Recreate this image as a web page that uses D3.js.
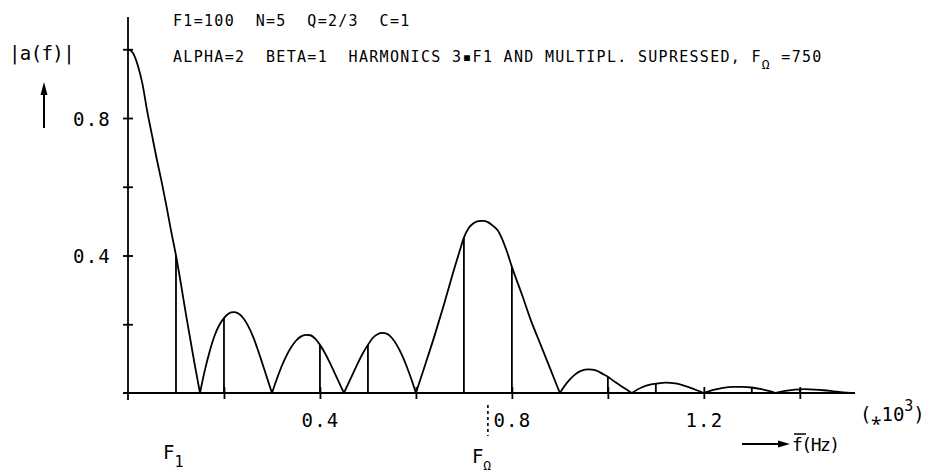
<!DOCTYPE html>
<html>
<head>
<meta charset="utf-8">
<script src="https://cdn.jsdelivr.net/npm/d3@7"></script>
<style>
  html, body { margin: 0; padding: 0; background: #fff; }
  svg { display: block; }
  text { font-family: "DejaVu Sans Mono", monospace; fill: #000; }
</style>
</head>
<body>
<svg id="chart" width="929" height="472"></svg>
<script>
// Amplitude spectrum |a(f)|, one array per lobe: [frequency in Hz, amplitude]
const lobe1 = [[0,1.0],[10,0.99],[20,0.955],[30,0.90],[40,0.82],[50,0.75],[60,0.68],[70,0.615],[80,0.545],[90,0.47],[100,0.40],[110,0.32],[120,0.235],[130,0.155],[140,0.075],[150,0]];
const lobe2 = [[150,0],[160,0.065],[170,0.12],[180,0.165],[190,0.197],[200,0.218],[210,0.231],[220,0.235],[230,0.231],[240,0.218],[250,0.196],[260,0.166],[270,0.128],[280,0.086],[290,0.043],[300,0]];
const lobe3 = [[300,0],[310,0.04],[320,0.077],[330,0.108],[340,0.133],[350,0.152],[360,0.164],[370,0.169],[380,0.168],[390,0.158],[400,0.14],[410,0.117],[420,0.09],[430,0.06],[440,0.03],[450,0]];
const lobe4 = [[450,0],[460,0.03],[470,0.06],[480,0.09],[490,0.117],[500,0.14],[510,0.16],[520,0.171],[530,0.175],[540,0.172],[550,0.16],[560,0.14],[570,0.113],[580,0.08],[590,0.042],[600,0]];
const lobe5 = [[600,0],[620,0.085],[640,0.172],[660,0.265],[680,0.362],[690,0.408],[700,0.452],[710,0.48],[720,0.494],[730,0.5],[740,0.501],[750,0.497],[760,0.487],[770,0.474],[780,0.447],[790,0.41],[800,0.367],[820,0.29],[840,0.21],[860,0.14],[880,0.07],[900,0]];
const lobe6 = [[900,0],[915,0.03],[930,0.052],[945,0.065],[960,0.069],[975,0.066],[990,0.055],[1000,0.047],[1015,0.032],[1030,0.018],[1050,0]];
const lobe7 = [[1050,0],[1070,0.016],[1090,0.025],[1100,0.027],[1120,0.03],[1140,0.028],[1160,0.021],[1180,0.011],[1200,0]];
const lobe8 = [[1200,0],[1220,0.009],[1240,0.015],[1260,0.018],[1280,0.018],[1300,0.016],[1320,0.011],[1335,0.006],[1350,0]];
const lobe9 = [[1350,0],[1370,0.006],[1390,0.01],[1410,0.011],[1430,0.01],[1450,0.008],[1470,0.005],[1490,0.002],[1505,0]];

// Harmonic lines n*F1 (multiples of 3*F1 suppressed)
const harmonicFreqs = [100, 200, 400, 500, 700, 800, 1000, 1100, 1300, 1400];
const harmonicAmps  = [0.40, 0.218, 0.14, 0.14, 0.452, 0.367, 0.047, 0.027, 0.016, 0.011];

// Axis ticks and labels
const xTicks = [200, 400, 600, 800, 1000, 1200, 1400];
const xTickLabels = ["", "0.4", "", "0.8", "", "1.2", ""];
const yTicks = [0.2, 0.4, 0.6, 0.8, 1.0];
const yTickLabels = ["", "0.4", "", "0.8", ""];

const F1 = 100;
const fOmega = 750;
const fMax = 1515;

const svg = d3.select("#chart");
const x = d3.scaleLinear().domain([0, fMax]).range([128, 855]);
const y = d3.scaleLinear().domain([0, 1]).range([393, 49.25]);
const ink = "#000";
const sw = 1.8;

// axis lines
svg.append("line").attr("x1", x(0) - 5).attr("x2", x(fMax)).attr("y1", y(0)).attr("y2", y(0))
  .attr("stroke", ink).attr("stroke-width", sw);
svg.append("line").attr("x1", x(0)).attr("x2", x(0)).attr("y1", 17).attr("y2", y(0) + 7)
  .attr("stroke", ink).attr("stroke-width", sw);

// x axis ticks
const xAxis = d3.axisBottom(x).tickValues(xTicks).tickSizeOuter(0)
  .tickFormat((d, i) => xTickLabels[i]);
const gx = svg.append("g").attr("transform", `translate(0,${y(0)})`).call(xAxis);
gx.select(".domain").remove();
gx.selectAll(".tick line").attr("y1", -6).attr("y2", 6).attr("stroke", ink).attr("stroke-width", sw);
gx.selectAll(".tick text").attr("y", 34).attr("dy", 0).attr("font-size", 19)
  .attr("font-family", "DejaVu Sans Mono").attr("letter-spacing", 1.2).attr("fill", ink);

// y axis ticks
const yAxis = d3.axisLeft(y).tickValues(yTicks).tickSizeOuter(0)
  .tickFormat((d, i) => yTickLabels[i]);
const gy = svg.append("g").attr("transform", `translate(${x(0)},0)`).call(yAxis);
gy.select(".domain").remove();
gy.selectAll(".tick line").attr("x1", -5).attr("x2", 5).attr("stroke", ink).attr("stroke-width", sw);
gy.selectAll(".tick text").attr("x", -17).attr("dy", "0.38em").attr("font-size", 19)
  .attr("font-family", "DejaVu Sans Mono").attr("letter-spacing", 1.2).attr("fill", ink);

// harmonic lines
svg.append("g").selectAll("line").data(harmonicFreqs).join("line")
  .attr("x1", d => x(d)).attr("x2", d => x(d))
  .attr("y1", y(0)).attr("y2", (d, i) => y(harmonicAmps[i]))
  .attr("stroke", ink).attr("stroke-width", sw);

// spectrum envelope, drawn lobe by lobe so the nulls stay sharp
const line = d3.line().x(d => x(d[0])).y(d => y(d[1])).curve(d3.curveMonotoneX);
svg.append("g").selectAll("path")
  .data([lobe1, lobe2, lobe3, lobe4, lobe5, lobe6, lobe7, lobe8, lobe9]).join("path")
  .attr("d", line).attr("fill", "none").attr("stroke", ink).attr("stroke-width", sw)
  .attr("stroke-linejoin", "round");

// F_Omega marker below the axis
svg.append("line").attr("x1", x(fOmega)).attr("x2", x(fOmega)).attr("y1", 405).attr("y2", 436)
  .attr("stroke", ink).attr("stroke-width", 1.6).attr("stroke-dasharray", "3,3");

// header lines (plotter-style monospaced lettering)
svg.append("text").attr("x", 173).attr("y", 26).attr("font-size", 15).attr("letter-spacing", 1.3)
  .attr("xml:space", "preserve").style("white-space", "pre")
  .text("F1=100  N=5  Q=2/3  C=1");
const t2 = svg.append("text").attr("x", 173).attr("y", 62).attr("font-size", 15)
  .attr("letter-spacing", 1.3).style("white-space", "pre");
t2.append("tspan").text("ALPHA=2  BETA=1  HARMONICS 3\u25AAF1 AND MULTIPL. SUPRESSED, F");
t2.append("tspan").attr("dy", 7).attr("font-size", 13).text("\u03A9");
t2.append("tspan").attr("dy", -7).text(" =750");

// y axis label with arrow
svg.append("text").attr("x", 9).attr("y", 60).attr("font-size", 19).attr("letter-spacing", -0.6)
  .text("|a(f)|");
svg.append("line").attr("x1", 44).attr("x2", 44).attr("y1", 128).attr("y2", 92)
  .attr("stroke", ink).attr("stroke-width", 2);
svg.append("path").attr("d", "M44,82 L40.5,95 L47.5,95 Z").attr("fill", ink);

// x axis unit and label with arrow
const unit = svg.append("text").attr("x", 860).attr("y", 421).attr("font-size", 19);
unit.append("tspan").text("(\u204E10");
unit.append("tspan").attr("dy", -10).attr("font-size", 15).text("3");
unit.append("tspan").attr("dy", 10).text(")");

svg.append("line").attr("x1", 742).attr("x2", 780).attr("y1", 444).attr("y2", 444)
  .attr("stroke", ink).attr("stroke-width", 2);
svg.append("path").attr("d", "M790,444 L778,440.5 L778,447.5 Z").attr("fill", ink);
svg.append("text").attr("x", 792).attr("y", 451).attr("font-size", 18).attr("letter-spacing", -1.5)
  .text("f(Hz)");
svg.append("line").attr("x1", 794).attr("x2", 806).attr("y1", 434).attr("y2", 434)
  .attr("stroke", ink).attr("stroke-width", 1.5);

// frequency markers F1 and F_Omega
const lf1 = svg.append("text").attr("x", x(F1) - 13).attr("y", 459).attr("font-size", 19);
lf1.append("tspan").text("F");
lf1.append("tspan").attr("dy", 8).attr("font-size", 15).text("1");
const lfo = svg.append("text").attr("x", x(fOmega) - 16).attr("y", 463).attr("font-size", 19);
lfo.append("tspan").text("F");
lfo.append("tspan").attr("dy", 7).attr("font-size", 13).text("\u03A9");
</script>
</body>
</html>
